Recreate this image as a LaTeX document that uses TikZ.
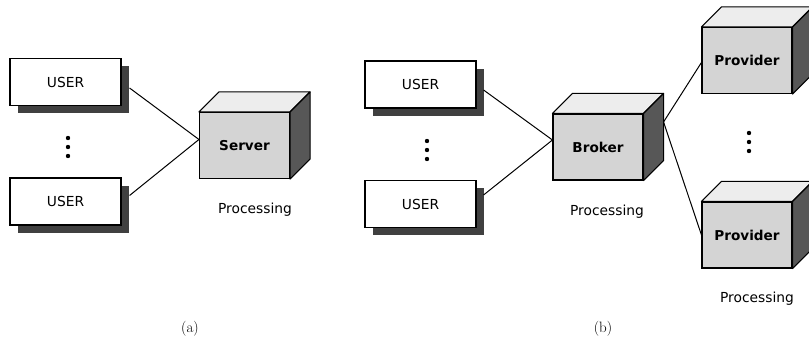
\documentclass[tikz,border=0pt]{standalone}
\usepackage{fontspec}
\usetikzlibrary{calc, shadows, positioning}
\newfontfamily\boxfont{DejaVu Sans}

\tikzstyle{userbox} = [draw, fill=white, line width=1.1pt,
    minimum width=111pt, minimum height=47pt, inner sep=0pt,
    font=\boxfont\fontsize{13.8}{16}\selectfont,
    drop shadow={shadow xshift=8pt, shadow yshift=-8pt, fill=black!75, opacity=1}]
\tikzstyle{cube} = [draw, fill=black!17, line width=1.1pt,
    minimum width=90pt, minimum height=66pt, inner sep=0pt,
    font=\boxfont\bfseries\fontsize{13.6}{16}\selectfont]
\tikzstyle{proc} = [font=\boxfont\fontsize{13.8}{16}\selectfont]
\tikzstyle{caption} = [font=\rmfamily\fontsize{15}{17}\selectfont]
\tikzstyle{link} = [line width=1pt]

% top and right face of a cube node
\newcommand{\cubefaces}[1]{%
  \filldraw[fill=black!7, line width=1.1pt, line join=round]
    (#1.north west) -- ++(20pt,20pt) -- ($(#1.north east)+(20pt,20pt)$)
    -- (#1.north east) -- cycle;
  \filldraw[fill=black!66, line width=1.1pt, line join=round]
    (#1.north east) -- ++(20pt,20pt) -- ($(#1.south east)+(20pt,20pt)$)
    -- (#1.south east) -- cycle;
}
\newcommand{\vdotsat}[1]{%
  \foreach \dy in {-9,0,9} \fill ($(#1)+(0,\dy pt)$) circle (2.2pt);
}

\begin{document}
\begin{tikzpicture}[x=1pt, y=1pt]
  \useasboundingbox (0,0) rectangle (809,345);

  % (a) client / server
  \node[userbox] (user1) at (65.5,263) {USER};
  \node[userbox] (user2) at (65.5,143.5) {USER};
  \coordinate (dotsA) at (68,198);
  \vdotsat{dotsA}
  \node[cube] (srv) at (244.5,199.5) {Server};
  \cubefaces{srv}
  \node[proc] (procA) at (255,135) {Processing};
  \draw[link] ([shift={(8pt,-6pt)}]user1.east) -- ([yshift=6pt]srv.west);
  \draw[link] ([shift={(8pt,6pt)}]user2.east) -- ([yshift=6pt]srv.west);
  \node[caption] (capA) at (190,16) {(a)};

  % (b) broker with providers
  \node[userbox] (user3) at (420.5,260.5) {USER};
  \node[userbox] (user4) at (420.5,141) {USER};
  \coordinate (dotsB) at (427,195);
  \vdotsat{dotsB}
  \node[cube] (brk) at (598,198) {Broker};
  \cubefaces{brk}
  \node[proc] (procB) at (607,133) {Processing};
  \draw[link] ([shift={(7pt,-5.5pt)}]user3.east) -- ([yshift=7pt]brk.west);
  \draw[link] ([shift={(7pt,9pt)}]user4.east) -- ([yshift=7pt]brk.west);

  \node[cube] (prov1) at (747,284.5) {Provider};
  \cubefaces{prov1}
  \node[cube] (prov2) at (747,110) {Provider};
  \cubefaces{prov2}
  \coordinate (dotsC) at (749,203);
  \vdotsat{dotsC}
  \node[proc] (procC) at (757,46) {Processing};
  \coordinate (brkback) at ([shift={(20pt,25pt)}]brk.east);
  \draw[link] (brkback) -- ([yshift=-2pt]prov1.west);
  \draw[link] (brkback) -- (prov2.west);
  \node[caption] (capB) at (603,16) {(b)};
\end{tikzpicture}
\end{document}
